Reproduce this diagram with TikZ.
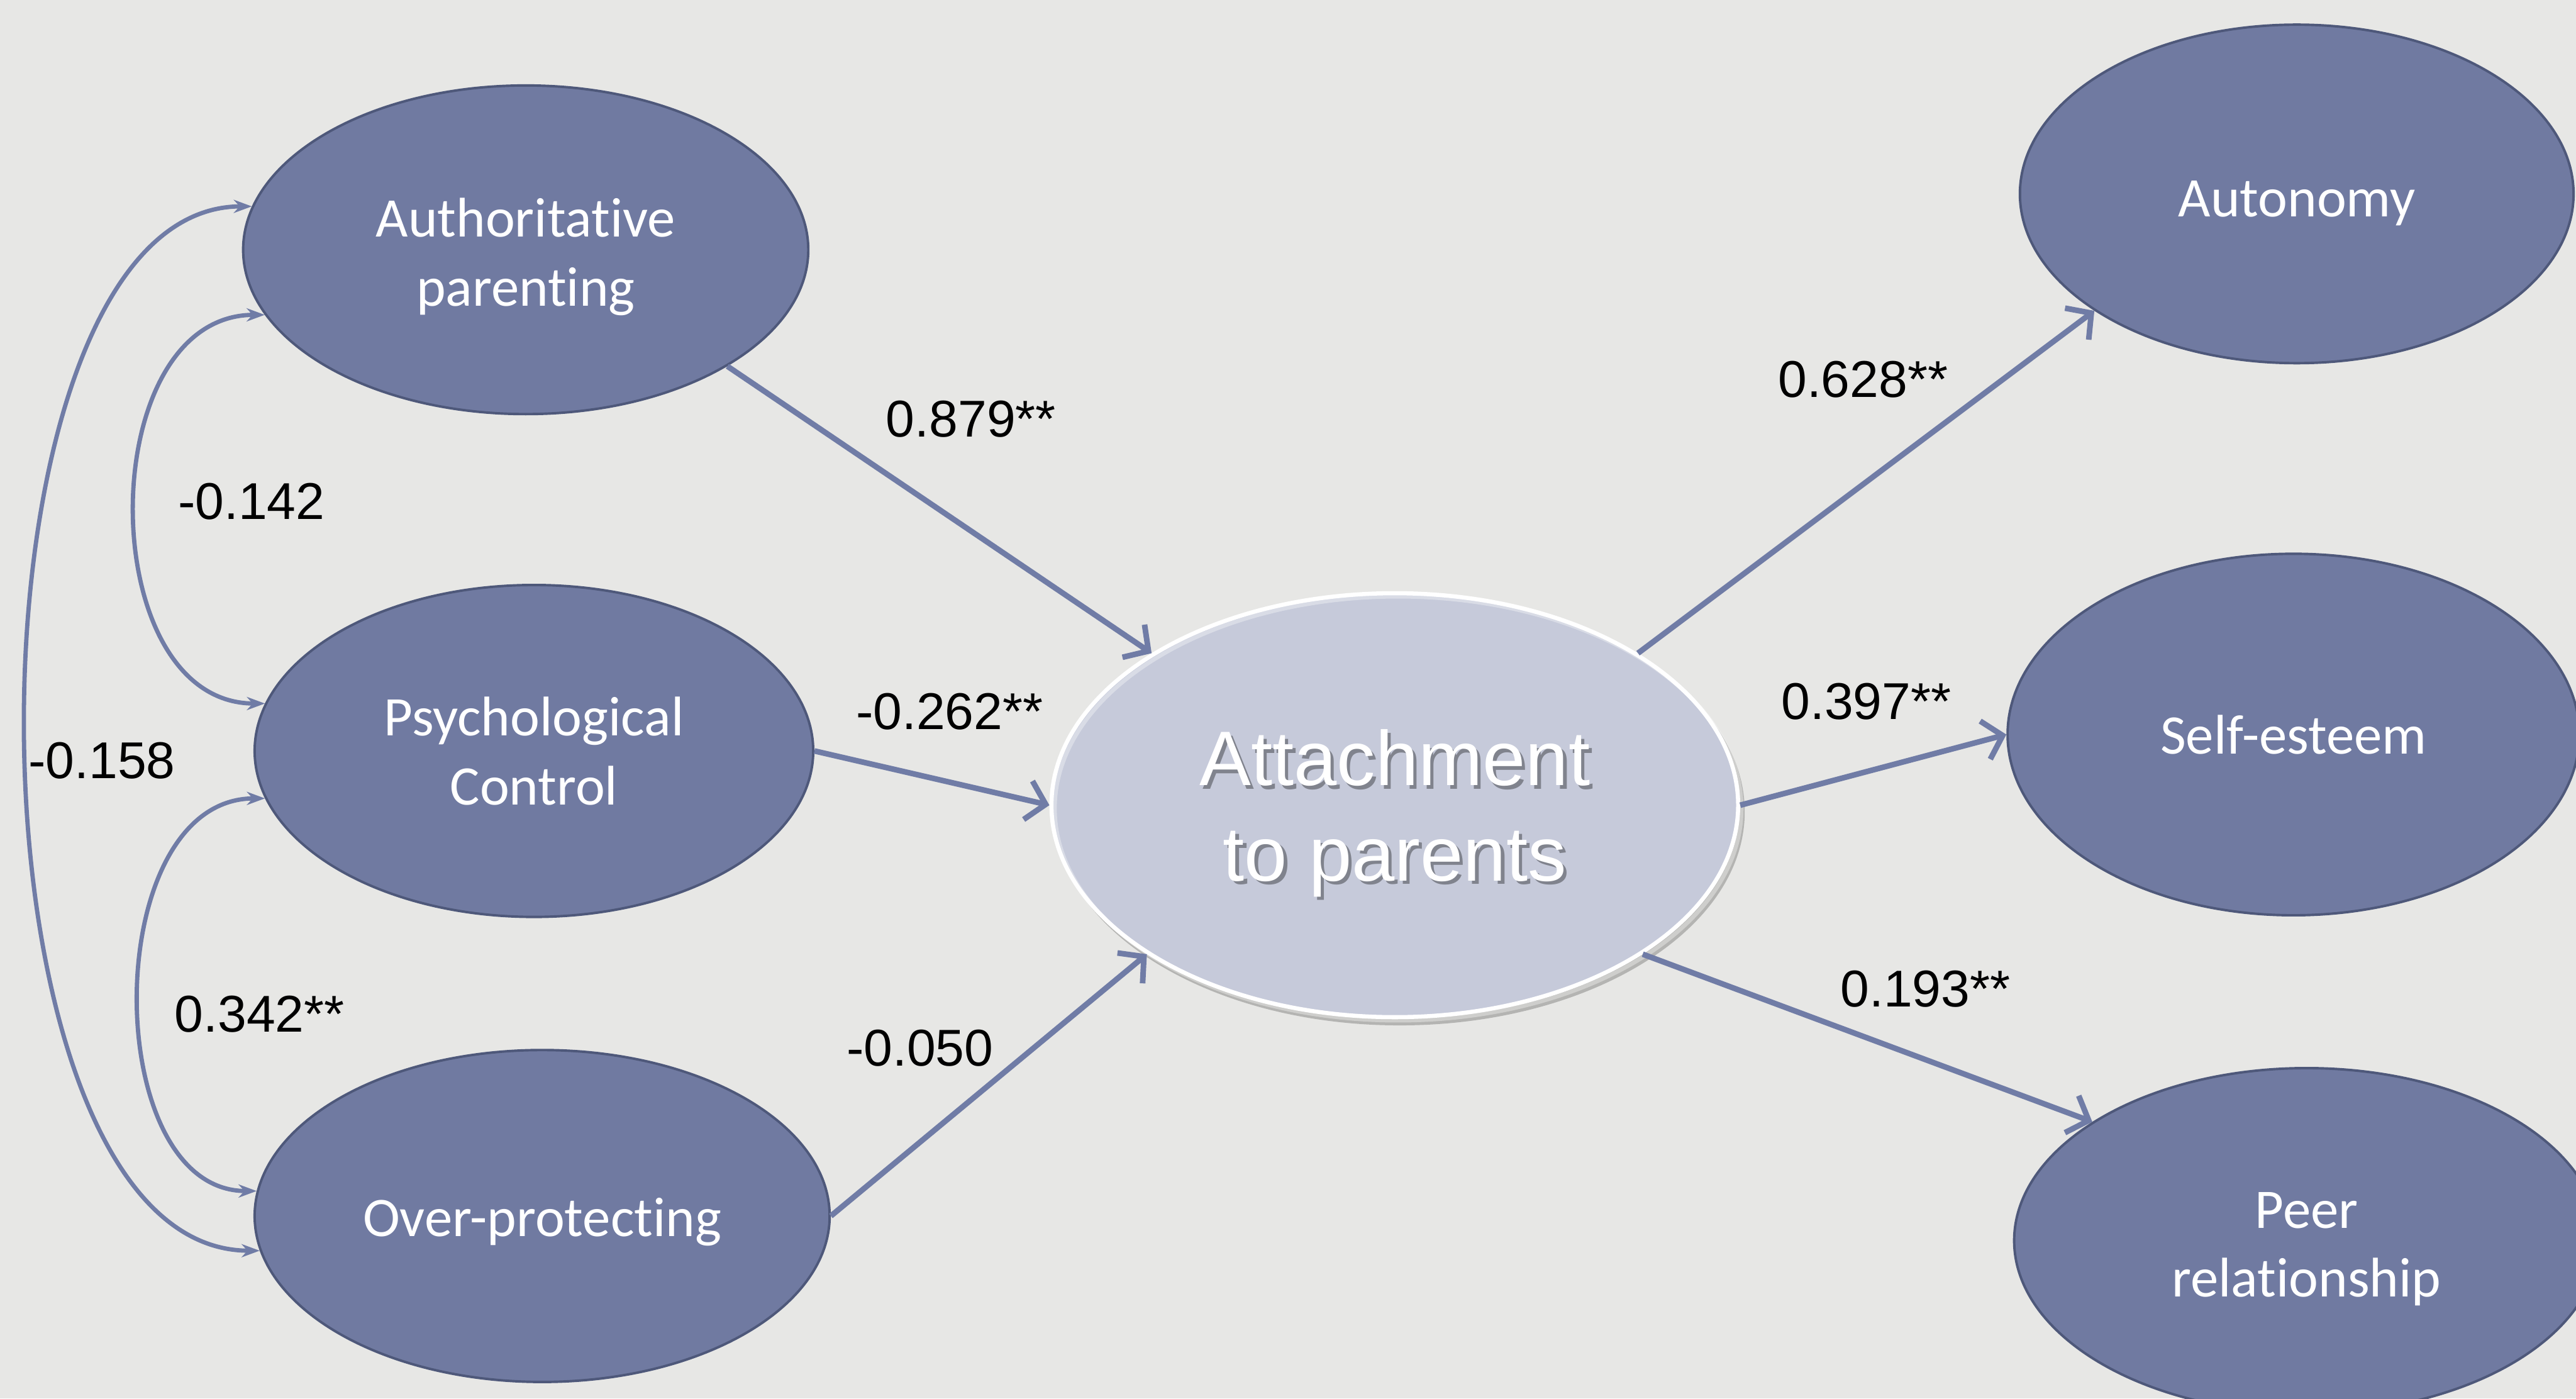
\documentclass[tikz,border=0pt]{standalone}
\usepackage{fontspec}
\setmainfont{Liberation Sans}
\newfontfamily\nodefont[Ligatures=NoCommon]{Carlito}
\usetikzlibrary{arrows.meta,shapes.geometric}
\definecolor{bg}{RGB}{231,231,229}
\definecolor{nodefill}{RGB}{112,122,161}
\definecolor{nodeedge}{RGB}{78,88,122}
\definecolor{linkcol}{RGB}{112,124,166}
\definecolor{centerfill}{RGB}{198,202,218}
\newcommand{\tgap}[1]{\rule{0pt}{#1pt}}
\begin{document}
\begin{tikzpicture}[x=1pt,y=-1pt,
  latent/.style={ellipse, draw=nodeedge, line width=1.5pt, fill=nodefill, inner sep=0pt,
    text=white, font=\nodefont\fontsize{34}{42}\selectfont, align=center},
  central/.style={ellipse, draw=white, line width=2.5pt, inner sep=0pt,
    text=white, font=\fontsize{47}{58}\selectfont, align=center},
  link/.style={draw=linkcol, line width=3.4pt, -{Straight Barb[length=11pt,width=24pt]}},
  cov/.style={draw=linkcol, line width=2.6pt, {Stealth[length=11pt,width=8pt]}-{Stealth[length=11pt,width=8pt]}},
  coef/.style={font=\fontsize{31.5}{36}\selectfont, text=black, inner sep=0pt}]
\useasboundingbox (0,0) rectangle (1568,851);
\clip (0,0) rectangle (1568,851);
\fill[bg] (0,0) rectangle (1568,851);

% outer nodes
\node[latent, minimum width=344, minimum height=200] (auth) at (320,152) {\tgap{32}Authoritative\\parenting};
\node[latent, minimum width=340, minimum height=202] (psych) at (325,457) {Psychological\\Control};
\node[latent, minimum width=350, minimum height=202] (over) at (330,740) {\tgap{31}Over-protecting};
\node[latent, minimum width=337, minimum height=206] (auton) at (1398,118) {\tgap{33}Autonomy};
\node[latent, minimum width=348, minimum height=220] (self) at (1396,447) {Self-esteem};
\node[latent, minimum width=356, minimum height=210] (peer) at (1404,755) {\tgap{32}Peer\\relationship};

% central node: shadow, fill, text shadow, then node
\fill[black, opacity=0.22] (852,494) ellipse [x radius=210, y radius=130];
\fill[centerfill] (849,490) ellipse [x radius=209, y radius=129];
\node[central, text=black, opacity=0.35, minimum width=418, minimum height=258] (attshadow) at (851,492) {\tgap{44}Attachment\\to parents};
\node[central, minimum width=418, minimum height=258] (att) at (849,490) {\tgap{44}Attachment\\to parents};

% directed paths
\draw[link] (auth.-30) -- (att.148);
\draw[link] (psych.east) -- (att.west);
\draw[link] (over.east) -- (att.211);
\draw[link] (att.32) -- (auton.210);
\draw[link] (att.east) -- (self.west);
\draw[link] (att.-31) -- (peer.151);

% covariances
\draw[cov] (auth.171) .. controls +(-184,0) and +(-188,0) .. (over.187);
\draw[cov] (auth.194) .. controls +(-105,0) and +(-105,0) .. (psych.170);
\draw[cov] (psych.190) .. controls +(-101,0) and +(-96,0) .. (over.175);

% coefficients
\node[coef] (c1) at (591,255) {0.879**};
\node[coef] (c2) at (578,433) {-0.262**};
\node[coef] (c3) at (560,638) {-0.050};
\node[coef] (c4) at (153,305) {-0.142};
\node[coef] (c5) at (158,617) {0.342**};
\node[coef] (c6) at (62,463) {-0.158};
\node[coef] (c7) at (1134,231) {0.628**};
\node[coef] (c8) at (1136,427) {0.397**};
\node[coef] (c9) at (1172,602) {0.193**};
\end{tikzpicture}
\end{document}
